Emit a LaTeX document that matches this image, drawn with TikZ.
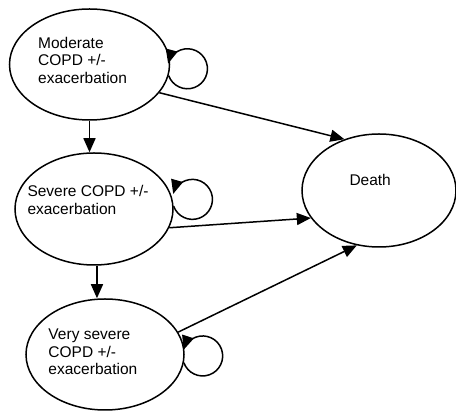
\documentclass[tikz,border=0pt]{standalone}
\usepackage{fontspec}
\setmainfont{Liberation Sans}
\usetikzlibrary{arrows.meta,shapes.geometric}
\begin{document}
\begin{tikzpicture}[x=1pt,y=1pt,
  state/.style={draw, ellipse, line width=1.5pt, inner sep=0pt},
  lbl/.style={font=\fontsize{15.5}{17.5}\selectfont, align=left, anchor=base west, inner sep=0pt},
  arr/.style={line width=1.5pt, -{Triangle[length=14pt,width=12pt]}}]
\useasboundingbox (0,0) rectangle (456,412);

% disease states
\node[state, minimum width=160pt, minimum height=111pt] (mod)   at (89.5,347.5) {};
\node[state, minimum width=158pt, minimum height=112pt] (sev)   at (94,203) {};
\node[state, minimum width=158pt, minimum height=111pt] (vsev)  at (105,57.5) {};
\node[state, minimum width=154pt, minimum height=113pt] (death) at (379,221.5) {};

% state labels (positioned by the baseline of their last line)
\node[lbl] (modtxt)   at (38,328.7)   {Moderate\\COPD +/-\\exacerbation};
\node[lbl] (sevtxt)   at (27.3,197.7) {Severe COPD +/-\\exacerbation};
\node[lbl] (vsevtxt)  at (48.3,37)    {Very severe\\COPD +/-\\exacerbation};
\node[lbl] (deathtxt) at (349.3,226.3) {Death};

% progression
\draw[arr] (mod.south) -- (mod.south |- sev.north);
\draw[arr] (sev.-87) -- (sev.-87 |- vsev.north);

% transitions to death
\draw[arr] (mod.-22) -- (death.124);
\draw[arr] (sev.-14) -- (death.-158);
\draw[arr] (vsev.17) -- (death.-112);

% remaining in the same state
\draw[arr] (mod.-8) arc[start angle=200, end angle=525, radius=20pt];
\draw[arr] (sev.2) arc[start angle=200, end angle=524, radius=20pt];
\draw[arr] (vsev.-6) arc[start angle=200, end angle=522, radius=20pt];
\end{tikzpicture}
\end{document}
